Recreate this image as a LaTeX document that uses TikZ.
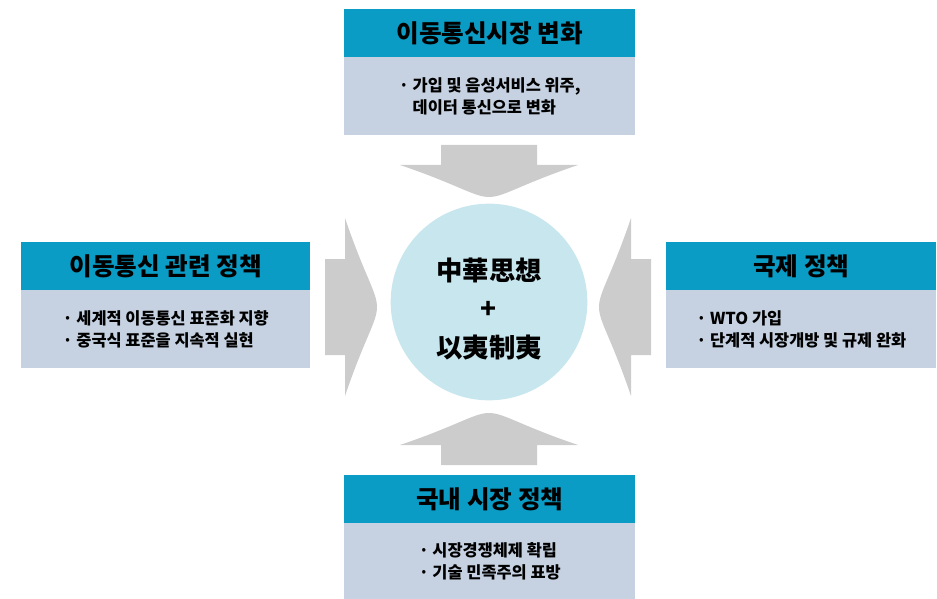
\documentclass[tikz,border=0pt]{standalone}
\usepackage{fontspec}
\setmainfont{Noto Sans CJK KR}
\definecolor{headcyan}{HTML}{0A9CC4}
\definecolor{bodygray}{HTML}{C6D2E2}
\definecolor{ballcyan}{HTML}{C8E6EE}
\definecolor{arrowgray}{HTML}{CCCCCC}
\tikzset{
  headbox/.style={fill=headcyan, anchor=north west, inner sep=0pt, minimum height=1.44cm,
    font=\fontsize{21}{24}\selectfont\bfseries},
  bodybox/.style={fill=bodygray, anchor=north west, inner sep=0pt, minimum height=2.34cm,
    align=left, font=\fontsize{14}{19}\selectfont\bfseries},
  ball/.style={circle, fill=ballcyan, minimum size=5.9cm, inner sep=0pt},
  balltext/.style={align=center, inner sep=0pt, font=\fontsize{22.5}{33}\selectfont\bfseries},
  bigarrow/.pic={
    \fill[arrowgray] (-48,-52) -- (48,-52) -- (48,-32) -- (89,-32)
      .. controls (30,-12) and (15,0) .. (0,0)
      .. controls (-15,0) and (-30,-12) .. (-89,-32) -- (-48,-32) -- cycle;
  }
}
\begin{document}
\begin{tikzpicture}[x=0.03cm, y=-0.03cm]
  \useasboundingbox (0,0) rectangle (937,599);

  % Mitte
  \node[ball] (core) at (489,302) {};
  \node[balltext] (coreText) at (489,309) {中華思想\\+\\以夷制夷};

  % Pfeile zur Mitte
  \pic at (489,197) {bigarrow};
  \pic[rotate=180] at (489,413) {bigarrow};
  \pic[rotate=90] at (377,307) {bigarrow};
  \pic[rotate=-90] at (599,307) {bigarrow};

  % oben
  \node[headbox, minimum width=8.73cm] (marketHead) at (344,9) {이동통신시장 변화};
  \node[bodybox, minimum width=8.73cm] (marketBody) at (344,57)
    {· 가입 및 음성서비스 위주,\\\hphantom{· }데이터 통신으로 변화};

  % links
  \node[headbox, minimum width=8.67cm] (mobileHead) at (21,242) {이동통신 관련 정책};
  \node[bodybox, minimum width=8.67cm] (mobileBody) at (21,290)
    {· 세계적 이동통신 표준화 지향\\· 중국식 표준을 지속적 실현};

  % rechts
  \node[headbox, minimum width=8.1cm] (worldHead) at (666,242) {국제 정책};
  \node[bodybox, minimum width=8.1cm] (worldBody) at (666,290)
    {· WTO 가입\\· 단계적 시장개방 및 규제 완화};

  % unten
  \node[headbox, minimum width=8.73cm] (homeHead) at (344,475) {국내 시장 정책};
  \node[bodybox, minimum width=8.73cm, minimum height=2.28cm] (homeBody) at (344,523)
    {· 시장경쟁체제 확립\\· 기술 민족주의 표방};
\end{tikzpicture}
\end{document}
